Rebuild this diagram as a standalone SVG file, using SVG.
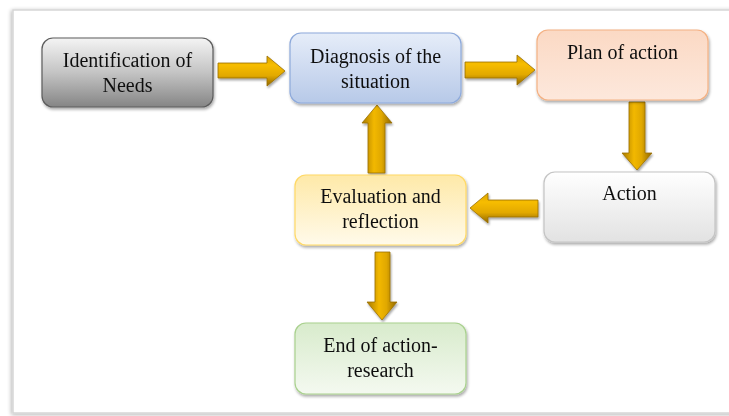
<svg xmlns="http://www.w3.org/2000/svg" width="729" height="416" viewBox="0 0 729 416">
<defs>
<style>
.t{font-family:"Liberation Serif","Times New Roman",serif;font-size:20px;fill:#111111;text-anchor:middle}
.arr{stroke:#9a7000;stroke-width:0.8}
</style>
<filter id="sh" x="-10%" y="-10%" width="125%" height="130%">
<feGaussianBlur in="SourceAlpha" stdDeviation="1.6"/>
<feOffset dx="1" dy="2" result="b"/>
<feComponentTransfer><feFuncA type="linear" slope="0.35"/></feComponentTransfer>
<feMerge><feMergeNode/><feMergeNode in="SourceGraphic"/></feMerge>
</filter>
<filter id="ash" x="-20%" y="-20%" width="140%" height="140%">
<feGaussianBlur in="SourceAlpha" stdDeviation="0.8"/>
<feOffset dx="1" dy="1.5"/>
<feComponentTransfer><feFuncA type="linear" slope="0.35"/></feComponentTransfer>
<feMerge><feMergeNode/><feMergeNode in="SourceGraphic"/></feMerge>
</filter>
<filter id="fsh" x="-5%" y="-5%" width="110%" height="110%">
<feGaussianBlur in="SourceAlpha" stdDeviation="2"/>
<feOffset dx="-1" dy="1"/>
<feComponentTransfer><feFuncA type="linear" slope="0.3"/></feComponentTransfer>
<feMerge><feMergeNode/><feMergeNode in="SourceGraphic"/></feMerge>
</filter>
<linearGradient id="gGray" x1="0" y1="0" x2="0" y2="1"><stop offset="0" stop-color="#f4f4f4"/><stop offset="0.5" stop-color="#c4c4c4"/><stop offset="1" stop-color="#858585"/></linearGradient>
<linearGradient id="gBlue" x1="0" y1="0" x2="0" y2="1"><stop offset="0" stop-color="#e6edf9"/><stop offset="1" stop-color="#b7c9e8"/></linearGradient>
<linearGradient id="gPeach" x1="0" y1="0" x2="0" y2="1"><stop offset="0" stop-color="#fbd9c4"/><stop offset="1" stop-color="#fde8dc"/></linearGradient>
<linearGradient id="gWhite" x1="0" y1="0" x2="0" y2="1"><stop offset="0" stop-color="#ffffff"/><stop offset="1" stop-color="#e2e2e2"/></linearGradient>
<linearGradient id="gYellow" x1="0" y1="0" x2="0" y2="1"><stop offset="0" stop-color="#fee9a8"/><stop offset="1" stop-color="#fffaea"/></linearGradient>
<linearGradient id="gGreen" x1="0" y1="0" x2="0" y2="1"><stop offset="0" stop-color="#d8ebcc"/><stop offset="1" stop-color="#f4f9f0"/></linearGradient>
<linearGradient id="aH" x1="0" y1="0" x2="0" y2="1"><stop offset="0" stop-color="#d9a200"/><stop offset="0.3" stop-color="#f7bd00"/><stop offset="0.65" stop-color="#e2a900"/><stop offset="1" stop-color="#8f6600"/></linearGradient>
<linearGradient id="aV" x1="0" y1="0" x2="1" y2="0"><stop offset="0" stop-color="#a87a00"/><stop offset="0.4" stop-color="#f2b800"/><stop offset="0.65" stop-color="#e0a800"/><stop offset="1" stop-color="#8f6600"/></linearGradient>
</defs>
<rect width="729" height="416" fill="#ffffff"/>
<g id="frame" filter="url(#fsh)">
<rect x="13" y="10" width="730" height="403" fill="#ffffff" stroke="#d6d6d6" stroke-width="1.5"/>
</g>
<g id="connectors" filter="url(#ash)">
<path class="arr" fill="url(#aH)" d="M218,63 L267,63 L267,56 L285,71 L267,86 L267,78 L218,78 Z"/>
<path class="arr" fill="url(#aH)" d="M465,62 L517,62 L517,55 L535,70 L517,85 L517,78 L465,78 Z"/>
<path class="arr" fill="url(#aV)" d="M629,102 L645,102 L645,153 L652,153 L637,170 L622,153 L629,153 Z"/>
<path class="arr" fill="url(#aH)" d="M538,200 L488,200 L488,193 L470,208 L488,223 L488,217 L538,217 Z"/>
<path class="arr" fill="url(#aV)" d="M368,173 L385,173 L385,123 L392,123 L377,105 L362,123 L368,123 Z"/>
<path class="arr" fill="url(#aV)" d="M375,252 L390,252 L390,302 L397,302 L382,320 L367,302 L375,302 Z"/>
</g>
<g id="identification" filter="url(#sh)">
<rect x="42" y="38" width="171" height="69" rx="11" fill="url(#gGray)" stroke="#5c5c5c" stroke-width="1.2"/>
<text class="t" x="127.5" y="67">Identification of</text>
<text class="t" x="127.5" y="92">Needs</text>
</g>
<g id="diagnosis" filter="url(#sh)">
<rect x="290" y="33" width="171" height="70" rx="11" fill="url(#gBlue)" stroke="#8eaadb" stroke-width="1.2"/>
<text class="t" x="375.5" y="63">Diagnosis of the</text>
<text class="t" x="375.5" y="88">situation</text>
</g>
<g id="plan" filter="url(#sh)">
<rect x="537" y="30" width="171" height="70" rx="11" fill="url(#gPeach)" stroke="#f4b183" stroke-width="1.2"/>
<text class="t" x="622.5" y="59">Plan of action</text>
</g>
<g id="action" filter="url(#sh)">
<rect x="544" y="172" width="171" height="70" rx="11" fill="url(#gWhite)" stroke="#c4c4c4" stroke-width="1.2"/>
<text class="t" x="629.5" y="200">Action</text>
</g>
<g id="evaluation" filter="url(#sh)">
<rect x="295" y="175" width="171" height="70" rx="11" fill="url(#gYellow)" stroke="#ffd966" stroke-width="1.2"/>
<text class="t" x="380.5" y="203">Evaluation and</text>
<text class="t" x="380.5" y="228">reflection</text>
</g>
<g id="end" filter="url(#sh)">
<rect x="295" y="323" width="171" height="71" rx="11" fill="url(#gGreen)" stroke="#a9d18e" stroke-width="1.2"/>
<text class="t" x="380.5" y="352">End of action-</text>
<text class="t" x="380.5" y="377">research</text>
</g>
</svg>
